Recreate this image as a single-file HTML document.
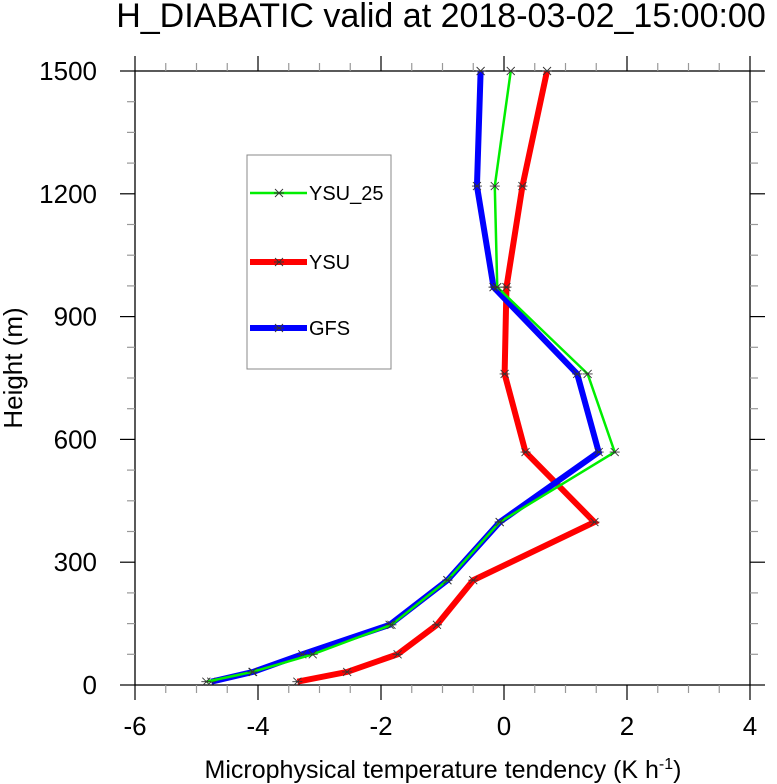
<!DOCTYPE html>
<html><head><meta charset="utf-8"><style>
body{margin:0;background:#fff}
svg{display:block;font-family:"Liberation Sans",sans-serif}
</style></head><body>
<svg id="chart" width="777" height="784" viewBox="0 0 777 784">
<text x="441" y="27" text-anchor="middle" font-size="34">H_DIABATIC valid at 2018-03-02_15:00:00</text>
<g id="axes"></g>
<g id="series"></g>
<g>
<rect x="247" y="155" width="144" height="214" fill="#fff" stroke="#888" stroke-width="1"/>
<g id="legend-items"></g>
</g>
<text x="22" y="368" text-anchor="middle" font-size="26" transform="rotate(-90 22 368)">Height (m)</text>
<text x="443" y="778" text-anchor="middle" font-size="25">Microphysical temperature tendency (K h<tspan dy="-9" font-size="16">-1</tspan><tspan dy="9">)</tspan></text>
</svg>
<script>
const heights=[8,32,75,147,256,398,569,760,972,1219,1500];
const ysu25=[-4.84,-4.09,-3.11,-1.83,-0.92,-0.07,1.80,1.36,-0.11,-0.15,0.11];
const ysu=[-3.36,-2.55,-1.73,-1.09,-0.50,1.47,0.35,0.01,0.04,0.30,0.70];
const gfs=[-4.76,-4.08,-3.28,-1.86,-0.92,-0.07,1.54,1.19,-0.17,-0.44,-0.38];
const xTicks=[-6,-4,-2,0,2,4];
const yTicks=[0,300,600,900,1200,1500];
const seriesNames=["YSU_25","YSU","GFS"];
const L=135,R=750,T=71,B=685;
const xs=v=>L+(v+6)/10*(R-L);
const ys=v=>B-v/1500*(B-T);
const NS="http://www.w3.org/2000/svg";
function mk(tag,at,parent){const e=document.createElementNS(NS,tag);for(const k in at)e.setAttribute(k,at[k]);parent.appendChild(e);return e;}
const ax=document.getElementById('axes');
const frame=mk('rect',{x:L,y:T,width:R-L,height:B-T,fill:'none',stroke:'#000','stroke-width':1.3},ax);


for(let v=-6;v<=4.001;v+=0.5){
  const major=Math.abs(v-Math.round(v/2)*2)<1e-6;
  const len=major?15:8, col=major?'#000':'#999';
  mk('line',{x1:xs(v),x2:xs(v),y1:B,y2:B+len,stroke:col,'stroke-width':1.2},ax);
  mk('line',{x1:xs(v),x2:xs(v),y1:T,y2:T-len,stroke:col,'stroke-width':1.2},ax);
}
for(let v=0;v<=1500;v+=75){
  const major=v%300===0;
  const len=major?15:8, col=major?'#000':'#999';
  mk('line',{x1:L,x2:L-len,y1:ys(v),y2:ys(v),stroke:col,'stroke-width':1.2},ax);
  mk('line',{x1:R,x2:R+len,y1:ys(v),y2:ys(v),stroke:col,'stroke-width':1.2},ax);
}
xTicks.forEach(v=>{const t=mk('text',{x:xs(v),y:B+50,'text-anchor':'middle','font-size':26},ax);t.textContent=v;

});
yTicks.forEach(v=>{const t=mk('text',{x:L-38,y:ys(v)+9,'text-anchor':'end','font-size':26},ax);t.textContent=v;

});
function star(g,x,y){
  const s=4;
  mk('path',{d:`M${x-s},${y-s}L${x+s},${y+s}M${x-s},${y+s}L${x+s},${y-s}M${x-s-1},${y}L${x+s+1},${y}`,stroke:'#333','stroke-width':0.9},g);
}
const sg=document.getElementById('series');
const defs=[[ysu,'#ff0000',6,'line-ysu'],[gfs,'#0000ff',6,'line-gfs'],[ysu25,'#00ee00',2.5,'line-ysu25']];
defs.forEach(([vals,col,w,name])=>{
  const g=mk('g',{},sg);
  
  
  const pts=vals.map((v,i)=>xs(v)+','+ys(heights[i])).join(' ');
  mk('polyline',{points:pts,fill:'none',stroke:col,'stroke-width':w,'stroke-linejoin':'miter'},g);
  vals.forEach((v,i)=>star(g,xs(v),ys(heights[i])));
});
const lg=document.getElementById('legend-items');
const lcols=['#00ee00','#ff0000','#0000ff'],lw=[2.5,6,6],ly=[193,262,328];
seriesNames.forEach((n,i)=>{
  const g=mk('g',{},lg);
  
  
  mk('line',{x1:250,x2:307,y1:ly[i],y2:ly[i],stroke:lcols[i],'stroke-width':lw[i]},g);
  star(g,279,ly[i]);
  const t=mk('text',{x:309,y:ly[i]+7,'font-size':20},g);t.textContent=n;
});
</script>
</body></html>
